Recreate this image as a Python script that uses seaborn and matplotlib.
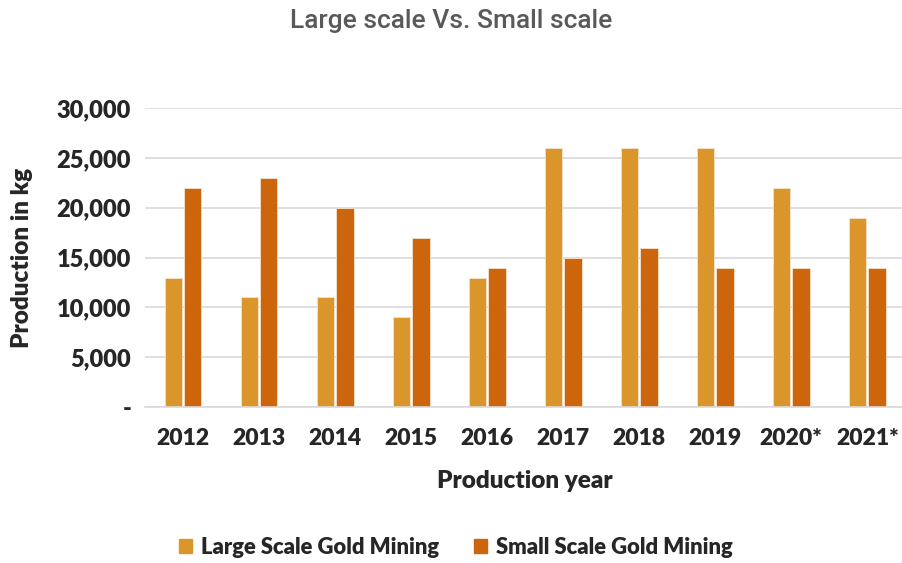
import pandas as pd
import matplotlib
matplotlib.use('Agg')
import matplotlib.pyplot as plt
import seaborn as sns

years = ['2012', '2013', '2014', '2015', '2016', '2017', '2018', '2019', '2020*', '2021*']
large_scale = [13000, 11000, 11000, 9000, 13000, 26000, 26000, 26000, 22000, 19000]
small_scale = [22000, 23000, 20000, 17000, 14000, 15000, 16000, 14000, 14000, 14000]
series_names = ['Large Scale Gold Mining', 'Small Scale Gold Mining']
colors = ['#DA962A', '#CC650B']
ytick_values = [0, 5000, 10000, 15000, 20000, 25000, 30000]

df = pd.DataFrame({
    'year': years * 2,
    'production': large_scale + small_scale,
    'scale': [series_names[0]] * len(years) + [series_names[1]] * len(years),
})

sns.set_style('white')
plt.rcParams['font.family'] = ['Lato', 'DejaVu Sans']

fig = plt.figure(figsize=(9.03, 5.63), dpi=100)
ax = fig.add_axes([0.1606, 0.277, 0.842, 0.531])

sns.barplot(data=df, x='year', y='production', hue='scale', order=years,
            hue_order=series_names, palette=colors, saturation=1, width=0.51, gap=0.1,
            edgecolor='#F3E3CF', linewidth=0.6, ax=ax, legend=True)

ax.set_ylim(0, 30000)
ax.set_yticks(ytick_values)
ax.set_yticklabels(['-' if v == 0 else format(v, ',') for v in ytick_values],
                   fontsize=17, fontweight='heavy')
ax.set_xticklabels(years, fontsize=16.5, fontweight='heavy')
ax.tick_params(axis='x', length=0, pad=15)
ax.tick_params(axis='y', length=0, pad=10)

ax.yaxis.grid(True, color='#D9D9D9', linewidth=1.2)
ax.set_axisbelow(True)
for s in ['top', 'right', 'left']:
    ax.spines[s].set_visible(False)
ax.spines['bottom'].set_color('#D9D9D9')
ax.spines['bottom'].set_linewidth(1.2)

ax.set_xlabel('Production year', fontsize=17.5, fontweight='heavy', labelpad=15)
ax.set_ylabel('Production in kg', fontsize=17.5, fontweight='heavy', labelpad=17)

fig.text(0.5, 0.962, 'Large scale Vs. Small scale', ha='center', va='center',
         fontsize=19, fontweight='medium', color='#595959', family=['Roboto', 'DejaVu Sans'])

ax.legend_.remove()
handles = [plt.Rectangle((0, 0), 1, 1, color=c) for c in colors]
fig.legend(handles, series_names, loc='center', bbox_to_anchor=(0.505, 0.028),
           ncol=2, frameon=False, prop={'size': 15.8, 'weight': 'heavy'},
           handlelength=0.6, handleheight=0.6, handletextpad=0.4, columnspacing=1.6)

fig.savefig('out.png', dpi=100)
